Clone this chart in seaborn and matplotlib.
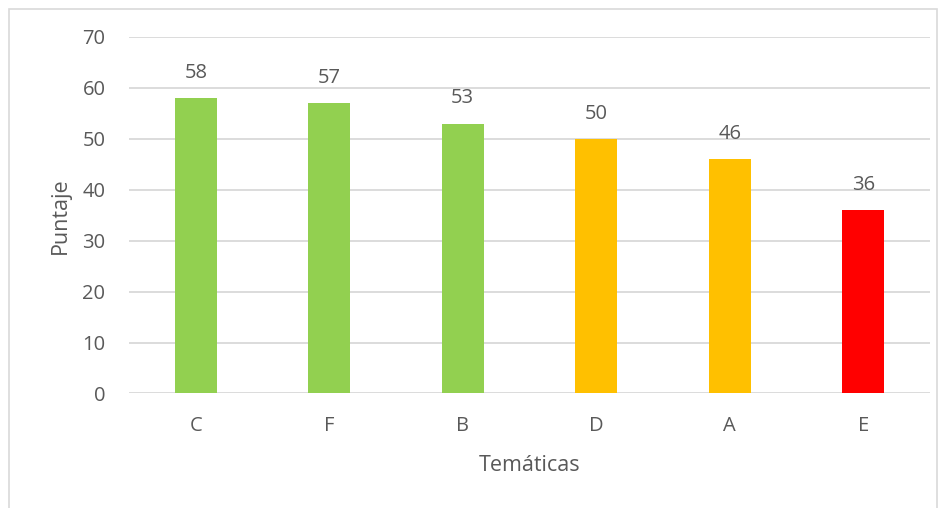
import matplotlib
matplotlib.use("Agg")
import matplotlib.pyplot as plt
import seaborn as sns
import pandas as pd
from matplotlib.patches import Rectangle

categories = ["C", "F", "B", "D", "A", "E"]
scores = [58, 57, 53, 50, 46, 36]
bar_colors = ["#92D050", "#92D050", "#92D050", "#FFC000", "#FFC000", "#FF0000"]
y_ticks = [0, 10, 20, 30, 40, 50, 60, 70]

sns.set_style("white")
plt.rcParams['font.family'] = ['Open Sans', 'DejaVu Sans']
text_color = "#595959"

df = pd.DataFrame({"Temáticas": categories, "Puntaje": scores})

fig = plt.figure(figsize=(9.46, 5.08), dpi=100)
ax = fig.add_axes([0.1364, 0.2254, 0.8467, 0.7018])

sns.barplot(data=df, x="Temáticas", y="Puntaje", hue="Temáticas",
            palette=dict(zip(categories, bar_colors)), width=0.315,
            saturation=1, linewidth=0, legend=False, ax=ax, zorder=3)

for c in ax.containers:
    ax.bar_label(c, padding=11, fontsize=14.5, color=text_color)

ax.set_ylim(0, 70)
ax.set_yticks(y_ticks)
ax.set_xlim(-0.5, len(categories) - 0.5)
ax.yaxis.grid(True, color="#D9D9D9", linewidth=1.3, zorder=0)
ax.set_axisbelow(True)
for s in ax.spines.values():
    s.set_visible(False)
ax.tick_params(axis="both", length=0, labelsize=14.5, labelcolor=text_color)
ax.tick_params(axis="y", pad=17)
ax.tick_params(axis="x", pad=16)
ax.set_xlabel("Temáticas", fontsize=15.5, color=text_color, labelpad=14)
ax.set_ylabel("Puntaje", fontsize=15.5, color=text_color, labelpad=8)

# chart frame
fig.patches.append(Rectangle((9 / 946, -0.05), (937 - 9) / 946, 1 - 9 / 508 + 0.05,
                             transform=fig.transFigure, fill=False,
                             edgecolor="#D9D9D9", linewidth=1.2))

fig.savefig("out.png", dpi=100)
